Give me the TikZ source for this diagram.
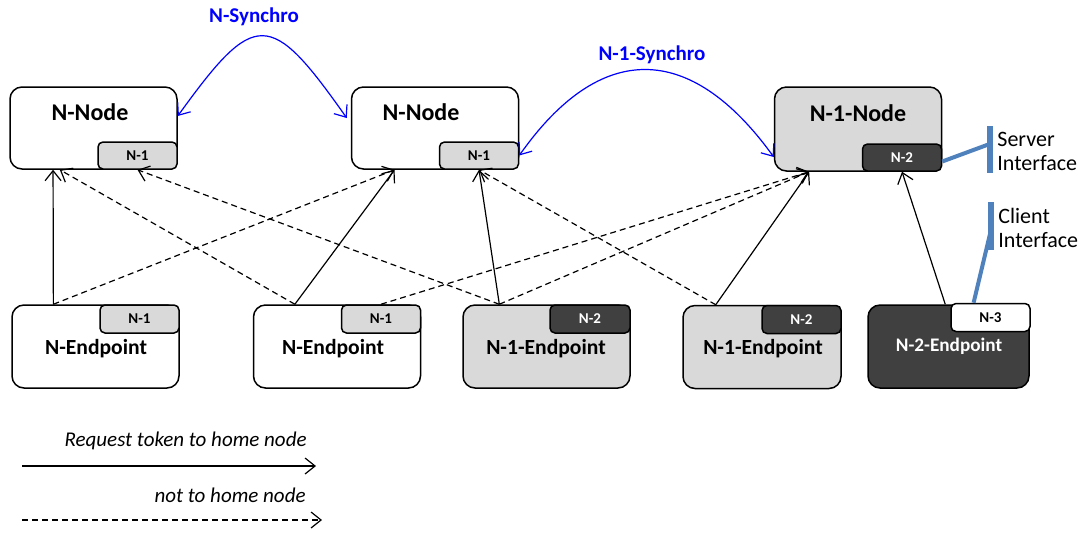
\documentclass[tikz,border=0pt]{standalone}
\usepackage{fontspec}
\setmainfont{Carlito}
\usetikzlibrary{arrows.meta,calc}

\definecolor{boxgray}{RGB}{217,217,217}
\definecolor{darkbox}{RGB}{64,64,64}
\definecolor{ifblue}{RGB}{79,129,189}

\begin{document}
\begin{tikzpicture}[x=0.5pt, y=-0.5pt,
    box/.style={draw, line width=0.75pt, rounded corners=6pt, fill=white,
        minimum width=83.5pt, minimum height=41pt, inner sep=0pt},
    subbox/.style={draw, line width=0.75pt, rounded corners=2.5pt,
        minimum width=39.5pt, minimum height=13.5pt, inner sep=0pt,
        font=\bfseries\fontsize{7.5}{8}\selectfont},
    nodetxt/.style={font=\bfseries\fontsize{12}{14}\selectfont, inner sep=0pt},
    eptxt/.style={font=\bfseries\fontsize{10.8}{13}\selectfont, inner sep=0pt},
    synctxt/.style={blue, font=\bfseries\fontsize{10.5}{12}\selectfont, inner sep=0pt},
    iftxt/.style={font=\fontsize{11}{12}\selectfont, align=left, inner sep=0pt},
    legtxt/.style={font=\itshape\fontsize{10.5}{12}\selectfont, inner sep=0pt},
    tip/.tip={Straight Barb[length=5pt, width=8pt]},
    req/.style={line width=0.6pt, -tip},
    other/.style={req, dash pattern=on 3pt off 2pt},
    sync/.style={blue, line width=0.6pt, tip-tip},
    iface/.style={ifblue, line width=2pt},
    ifbar/.style={ifblue, line width=2.6pt},
]
    \useasboundingbox (0,0) rectangle (1082,532);

    % home nodes
    \node[box] (nodeA) at (93.5,128) {};
    \node[nodetxt] (nodeAtxt) at (90,112) {N-Node};
    \node[subbox, fill=boxgray, anchor=south east] (nodeAsub) at (nodeA.south east) {N-1};

    \node[box] (nodeB) at (435,128) {};
    \node[nodetxt] (nodeBtxt) at (421,112) {N-Node};
    \node[subbox, fill=boxgray, anchor=south east] (nodeBsub) at (nodeB.south east) {N-1};

    \node[box, fill=boxgray, minimum height=42pt] (nodeC) at (858,129) {};
    \node[nodetxt] (nodeCtxt) at (858,113) {N-1-Node};
    \node[subbox, fill=darkbox, text=white, anchor=south east] (nodeCsub) at (nodeC.south east) {N-2};

    % endpoints
    \node[box, minimum height=41.5pt] (epA) at (95.5,346.5) {};
    \node[subbox, fill=boxgray, minimum height=14pt, anchor=north east] (epAsub) at (epA.north east) {N-1};
    \node[eptxt] (epAtxt) at (96,349) {N-Endpoint};

    \node[box, minimum height=41.5pt] (epB) at (337,346.5) {};
    \node[subbox, fill=boxgray, minimum height=14pt, anchor=north east] (epBsub) at (epB.north east) {N-1};
    \node[eptxt] (epBtxt) at (333,349) {N-Endpoint};

    \node[box, fill=boxgray, minimum height=41.5pt] (epC) at (546.5,346.5) {};
    \node[subbox, fill=darkbox, text=white, minimum width=40pt, minimum height=14pt, anchor=north east] (epCsub) at (epC.north east) {N-2};
    \node[eptxt] (epCtxt) at (546,349) {N-1-Endpoint};

    \node[box, fill=boxgray, minimum width=79pt, minimum height=41.5pt] (epD) at (762,347) {};
    \node[subbox, fill=darkbox, text=white, minimum height=14pt, anchor=north east] (epDsub) at (epD.north east) {N-2};
    \node[eptxt] (epDtxt) at (763,349) {N-1-Endpoint};

    \node[box, fill=darkbox, minimum width=80.5pt, minimum height=41.5pt] (epE) at (948.5,346.5) {};
    \node[subbox, fill=white, minimum height=14pt, anchor=north east] (epEsub) at ([xshift=0.5pt, yshift=0.75pt]epE.north east) {N-3};
    \node[eptxt, text=white, font=\bfseries\fontsize{9.6}{12}\selectfont] (epEtxt) at (949,346) {N-2-Endpoint};

    % requests to the home node
    \draw[req] ($(epA.north west)!.25!(epA.north east)$) -- ($(nodeA.south west)!.26!(nodeA.south east)$);
    \draw[req] ($(epB.north west)!.25!(epB.north east)$) -- ($(nodeB.south west)!.26!(nodeB.south east)$);
    \draw[req] ($(epC.north west)!.22!(epC.north east)$) -- (nodeBsub.south);
    \draw[req] ($(epD.north west)!.21!(epD.north east)$) -- ($(nodeC.south west)!.21!(nodeC.south east)$);
    \draw[req] ($(epE.north west)!.48!(epE.north east)$) -- (nodeCsub.south);

    % requests to other nodes
    \draw[other] ($(epA.north west)!.25!(epA.north east)$) -- ($(nodeB.south west)!.26!(nodeB.south east)$);
    \draw[other] ($(epB.north west)!.25!(epB.north east)$) -- ($(nodeA.south west)!.30!(nodeA.south east)$);
    \draw[other] (epBsub.north) -- ($(nodeC.south west)!.21!(nodeC.south east)$);
    \draw[other] ($(epC.north west)!.22!(epC.north east)$) -- (nodeAsub.south);
    \draw[other] ($(epC.north west)!.22!(epC.north east)$) -- ($(nodeC.south west)!.21!(nodeC.south east)$);
    \draw[other] ($(epD.north west)!.21!(epD.north east)$) -- (nodeBsub.south);

    % synchronisation between nodes
    \draw[sync] ([yshift=6pt]nodeA.east) .. controls (255,9) and (270,9) .. ([xshift=-2pt, yshift=5pt]nodeB.west);
    \node[synctxt] (syncA) at (254,17) {N-Synchro};
    \draw[sync] (nodeBsub.east) .. controls (600,41) and (690,41) .. ([yshift=-14pt]nodeC.west);
    \node[synctxt] (syncB) at (652,55) {N-1-Synchro};

    % interfaces
    \coordinate (srvTop) at (990,126);
    \coordinate (srvBot) at (990,173);
    \draw[ifbar] (srvTop) -- (srvBot);
    \draw[iface] ([yshift=-2pt]nodeCsub.east) -- ($(srvTop)!.38!(srvBot)$);
    \node[iftxt, anchor=west] (srvTxt) at (997,151) {Server\\Interface};

    \coordinate (cliTop) at (991,202);
    \coordinate (cliBot) at (991,250);
    \draw[ifbar] (cliTop) -- (cliBot);
    \draw[iface] ($(epEsub.north west)!.29!(epEsub.north east)$) -- ($(cliTop)!.58!(cliBot)$);
    \node[iftxt, anchor=west] (cliTxt) at (998,228) {Client\\Interface};

    % legend
    \coordinate (legA) at (22,466);
    \coordinate (legB) at (316,466);
    \coordinate (legC) at (22,520);
    \coordinate (legD) at (322,520);
    \draw[req] (legA) -- (legB);
    \draw[other] (legC) -- (legD);
    \node[legtxt, anchor=east] (legAtxt) at (307,441) {Request token to home node};
    \node[legtxt, anchor=east] (legCtxt) at (306,495) {not to home node};
\end{tikzpicture}
\end{document}
